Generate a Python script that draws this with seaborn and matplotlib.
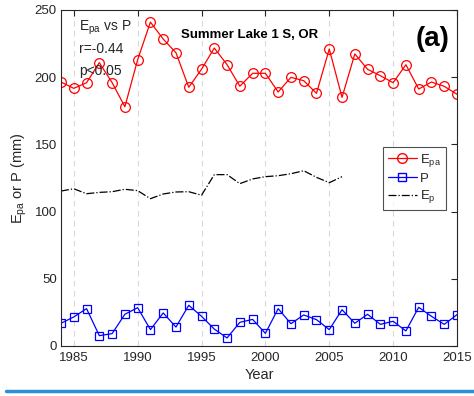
import numpy as np
import pandas as pd
import matplotlib
matplotlib.use("Agg")
import matplotlib.pyplot as plt
import matplotlib.lines as mlines
import seaborn as sns

years = list(range(1984, 2016))
epa = [196.4, 191.7, 195.9, 210.8, 196.0, 178.0, 213.0, 241.0, 228.4, 218.2,
       192.5, 205.9, 221.7, 209.3, 193.3, 202.9, 202.9, 189.0, 199.9, 197.4,
       188.0, 221.0, 185.0, 217.3, 205.9, 201.1, 195.9, 209.3, 191.2, 196.4,
       193.2, 187.3]
precip = [16.9, 21.6, 27.8, 7.7, 9.2, 23.6, 28.5, 12.2, 24.6, 14.1,
          30.3, 22.1, 12.6, 6.0, 17.6, 19.8, 9.4, 27.8, 16.6, 23.1,
          19.6, 12.2, 27.0, 16.9, 23.6, 16.1, 18.4, 11.2, 28.8, 22.1,
          16.1, 23.3]
ep_years = list(range(1984, 2007))
ep = [115.3, 117.0, 113.3, 114.3, 114.8, 116.6, 115.6, 109.6, 113.1, 114.6,
      114.8, 112.2, 127.5, 127.5, 120.8, 124.3, 126.0, 126.7, 128.2, 130.4,
      125.5, 121.5, 126.0]

sns.set_style("white")
plt.rcParams['font.family'] = ['Liberation Sans', 'DejaVu Sans']
plt.rcParams['mathtext.fontset'] = 'custom'
plt.rcParams['mathtext.rm'] = 'Liberation Sans'
plt.rcParams['mathtext.it'] = 'Liberation Sans'

fig = plt.figure(figsize=(4.74, 3.96), dpi=100)
ax = fig.add_axes([61 / 474, 1 - 346 / 396, (457 - 61) / 474, (346 - 10) / 396])

df_epa = pd.DataFrame({"Year": years, "val": epa})
df_p = pd.DataFrame({"Year": years, "val": precip})
df_ep = pd.DataFrame({"Year": ep_years, "val": ep})

sns.lineplot(data=df_epa, x="Year", y="val", ax=ax, color="#ff0000", lw=0.9,
             marker="o", markersize=7.0, markerfacecolor="none",
             markeredgecolor="#ff0000", markeredgewidth=0.9)
sns.lineplot(data=df_p, x="Year", y="val", ax=ax, color="#0000ff", lw=0.9,
             marker="s", markersize=5.5, markerfacecolor="none",
             markeredgecolor="#0000ff", markeredgewidth=0.9)
sns.lineplot(data=df_ep, x="Year", y="val", ax=ax, color="black", lw=0.9,
             linestyle="-.")

ax.set_xlim(1984, 2015)
ax.set_ylim(0, 250)
ax.set_xticks(range(1985, 2016, 5))
ax.set_yticks(range(0, 251, 50))
ax.tick_params(direction="in", length=4, width=0.8, labelsize=9.5,
               top=True, right=True, colors="#262626", pad=4)
ax.tick_params(axis="y", pad=3)
for s in ax.spines.values():
    s.set_color("#262626")
    s.set_linewidth(0.8)
ax.xaxis.grid(True, linestyle=(0, (5, 4)), color="#d9d9d9", lw=0.8)
ax.yaxis.grid(False)

ax.set_xlabel("Year", fontsize=10.5, color="#262626", labelpad=3)
ax.set_ylabel(r"E$_{\mathrm{pa}}$ or P (mm)", fontsize=10.5, color="#262626", labelpad=4)

ax.text(0.045, 0.975, r"E$_{\mathrm{pa}}$ vs P", transform=ax.transAxes,
        fontsize=10, color="#262626", va="top", ha="left")
ax.text(0.045, 0.905, "r=-0.44", transform=ax.transAxes,
        fontsize=10, color="#262626", va="top", ha="left")
ax.text(0.045, 0.84, "p<0.05", transform=ax.transAxes,
        fontsize=10, color="#262626", va="top", ha="left")
ax.text(0.476, 0.925, "Summer Lake 1 S, OR", transform=ax.transAxes,
        fontsize=9.5, fontweight="bold", color="black", va="center", ha="center")
ax.text(0.98, 0.915, "(a)", transform=ax.transAxes,
        fontsize=20, fontweight="bold", color="black", va="center", ha="right")

handles = [
    mlines.Line2D([], [], color="#ff0000", lw=0.9, marker="o", markersize=7.0,
                  markerfacecolor="none", markeredgecolor="#ff0000"),
    mlines.Line2D([], [], color="#0000ff", lw=0.9, marker="s", markersize=5.5,
                  markerfacecolor="none", markeredgecolor="#0000ff"),
    mlines.Line2D([], [], color="black", lw=0.9, linestyle="-."),
]
leg = ax.legend(handles, [r"E$_{\mathrm{pa}}$", "P", r"E$_{\mathrm{p}}$"],
                loc="upper left", bbox_to_anchor=((383 - 61) / 396, 1 - (147 - 10) / 336),
                fontsize=9.5, frameon=True, fancybox=False, borderpad=0.35,
                handlelength=2.2, handletextpad=0.25, labelspacing=0.28,
                borderaxespad=0)
leg.get_frame().set_edgecolor("#262626")
leg.get_frame().set_linewidth(0.8)

fig.add_artist(mlines.Line2D([6 / 474, 1.0], [1 - 391 / 396, 1 - 391 / 396],
                             color="#2f8fd4", lw=2.5, transform=fig.transFigure))

fig.savefig("out.png", dpi=100)
